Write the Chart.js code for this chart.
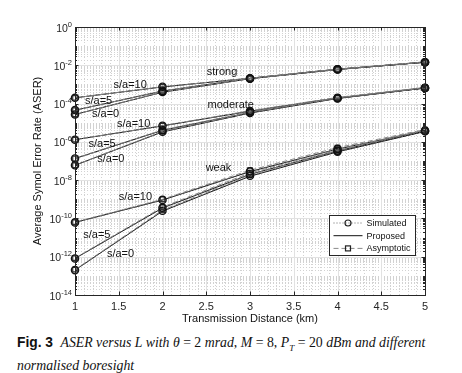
<!DOCTYPE html>
<html>
<head>
<meta charset="utf-8">
<script src="https://cdn.jsdelivr.net/npm/chart.js@4"></script>
<style>
  html, body { margin: 0; padding: 0; background: #fff; }
  #wrap { position: relative; width: 462px; height: 373px; overflow: hidden; }
  #chart { position: absolute; left: 0; top: 0; }
  #caption {
    position: absolute; left: 17px; top: 334px; width: 444px;
    font-family: "Liberation Serif", "DejaVu Serif", serif; font-size: 13.8px;
    line-height: 18px; color: #111; white-space: nowrap;
  }
  #caption b { font-family: "Liberation Sans", Arial, sans-serif; font-size: 13.8px; margin-right: 4px; }
  #caption i { font-style: italic; }
</style>
</head>
<body>
<div id="wrap">
  <canvas id="chart" width="462" height="330"></canvas>
  <div id="caption"><b>Fig. 3</b> <i>ASER versus L with &theta;</i> = 2 <i>mrad</i>, <i>M</i> = 8, <i>P<sub style="font-size:9px">T</sub></i> = 20 <i>dBm and different</i><br><i>normalised boresight</i></div>
</div>
<script>
// Data (x = distance in km, y = ASER)
const distance = [1, 2, 3, 4, 5];
const boresight = ['s/a=10', 's/a=5', 's/a=0'];

// rows: s/a=10, s/a=5, s/a=0
const strongProposed = [
  [2.0e-4, 7.4e-4, 2.1e-3, 6.2e-3, 1.45e-2],
  [4.5e-5, 4.5e-4, 2.05e-3, 6.2e-3, 1.45e-2],
  [2.7e-5, 3.9e-4, 2.0e-3, 6.0e-3, 1.45e-2]
];
const moderateProposed = [
  [1.3e-6, 6.8e-6, 4.0e-5, 2.0e-4, 6.6e-4],
  [1.35e-7, 4.0e-6, 3.4e-5, 1.9e-4, 6.5e-4],
  [6.0e-8, 3.3e-6, 3.2e-5, 1.85e-4, 6.5e-4]
];
const weakProposed = [
  [6.2e-11, 9.1e-10, 2.8e-8, 4.2e-7, 3.8e-6],
  [8.1e-13, 3.5e-10, 2.0e-8, 3.4e-7, 3.6e-6],
  [2.0e-13, 2.4e-10, 1.6e-8, 3.0e-7, 3.5e-6]
];

const strongSimulated = [
  [2.0e-4, 7.6e-4, 2.1e-3, 6.2e-3, 1.45e-2],
  [4.6e-5, 4.6e-4, 2.05e-3, 6.2e-3, 1.45e-2],
  [2.7e-5, 4.0e-4, 2.0e-3, 6.0e-3, 1.45e-2]
];
const moderateSimulated = [
  [1.3e-6, 7.0e-6, 4.1e-5, 2.0e-4, 6.6e-4],
  [1.35e-7, 4.1e-6, 3.5e-5, 1.9e-4, 6.5e-4],
  [6.0e-8, 3.4e-6, 3.2e-5, 1.85e-4, 6.5e-4]
];
const weakSimulated = [
  [6.2e-11, 9.3e-10, 2.9e-8, 4.3e-7, 3.9e-6],
  [8.1e-13, 3.6e-10, 2.1e-8, 3.5e-7, 3.7e-6],
  [2.0e-13, 2.5e-10, 1.7e-8, 3.1e-7, 3.6e-6]
];

const strongAsymptotic = [
  [2.0e-4, 7.5e-4, 2.15e-3, 6.3e-3, 1.5e-2],
  [4.5e-5, 4.6e-4, 2.1e-3, 6.3e-3, 1.5e-2],
  [2.7e-5, 4.0e-4, 2.05e-3, 6.1e-3, 1.5e-2]
];
const moderateAsymptotic = [
  [1.3e-6, 7.0e-6, 4.2e-5, 2.1e-4, 6.9e-4],
  [1.35e-7, 4.2e-6, 3.6e-5, 2.0e-4, 6.8e-4],
  [6.0e-8, 3.5e-6, 3.4e-5, 1.95e-4, 6.8e-4]
];
const weakAsymptotic = [
  [6.4e-11, 1.0e-9, 3.3e-8, 5.0e-7, 4.4e-6],
  [8.5e-13, 3.9e-10, 2.4e-8, 4.0e-7, 4.2e-6],
  [2.1e-13, 2.7e-10, 1.9e-8, 3.5e-7, 4.0e-6]
];

const yDecades = [1, 1e-1, 1e-2, 1e-3, 1e-4, 1e-5, 1e-6, 1e-7, 1e-8, 1e-9, 1e-10, 1e-11, 1e-12, 1e-13, 1e-14];
const yLabelExponents = [0, -2, -4, -6, -8, -10, -12, -14];

// text labels placed in data coordinates
const notes = [
  { text: 'strong', x: 2.68, y: 4.4e-3 },
  { text: 'moderate', x: 2.78, y: 8.1e-5 },
  { text: 'weak', x: 2.64, y: 4.3e-8 },
  { text: 's/a=10', x: 1.63, y: 9.1e-4 },
  { text: 's/a=5', x: 1.27, y: 1.4e-4 },
  { text: 's/a=0', x: 1.35, y: 2.7e-5 },
  { text: 's/a=10', x: 1.67, y: 8.3e-6 },
  { text: 's/a=5', x: 1.31, y: 8.1e-7 },
  { text: 's/a=0', x: 1.41, y: 1.23e-7 },
  { text: 's/a=10', x: 1.69, y: 1.35e-9 },
  { text: 's/a=5', x: 1.25, y: 1.45e-11 },
  { text: 's/a=0', x: 1.52, y: 1.32e-12 }
];

const INK = '#262626';
const FONT = '"Liberation Sans", Arial, sans-serif';

function toPoints(ys) {
  return distance.map((x, i) => ({ x: x, y: ys[i] }));
}

const datasets = [];
[strongSimulated, moderateSimulated, weakSimulated].forEach(group => {
  group.forEach((ys, k) => datasets.push({
    label: 'Simulated ' + boresight[k],
    data: toPoints(ys),
    borderColor: '#666',
    borderWidth: 1,
    borderDash: [1, 2],
    pointStyle: 'circle',
    pointRadius: 3.6,
    pointBorderColor: '#111',
    pointBorderWidth: 1.4,
    pointBackgroundColor: 'rgba(0,0,0,0)'
  }));
});
[strongAsymptotic, moderateAsymptotic, weakAsymptotic].forEach(group => {
  group.forEach((ys, k) => datasets.push({
    label: 'Asymptotic ' + boresight[k],
    data: toPoints(ys),
    borderColor: '#8a8a8a',
    borderWidth: 1,
    borderDash: [5, 3],
    pointStyle: 'rect',
    pointRadius: 3.2,
    pointBorderColor: '#333',
    pointBorderWidth: 1.2,
    pointBackgroundColor: 'rgba(0,0,0,0)'
  }));
});
[strongProposed, moderateProposed, weakProposed].forEach(group => {
  group.forEach((ys, k) => datasets.push({
    label: 'Proposed ' + boresight[k],
    data: toPoints(ys),
    borderColor: '#111',
    borderWidth: 1,
    pointRadius: 0
  }));
});

// MATLAB-like grid, box, ticks, y labels, text labels and legend
const decorPlugin = {
  id: 'decor',
  beforeDatasetsDraw(chart) {
    const { ctx, chartArea: a, scales } = chart;
    const xs = scales.x, ys = scales.y;
    ctx.save();
    ctx.lineWidth = 1;
    // minor grid
    ctx.strokeStyle = '#d2d2d2';
    ctx.setLineDash([1, 2]);
    ctx.beginPath();
    for (let v = 1; v <= 5.0001; v += 0.1) {
      const px = Math.round(xs.getPixelForValue(v)) + 0.5;
      ctx.moveTo(px, a.top); ctx.lineTo(px, a.bottom);
    }
    for (let e = -14; e < 0; e++) {
      for (let m = 1; m <= 9; m++) {
        const py = Math.round(ys.getPixelForValue(m * Math.pow(10, e))) + 0.5;
        ctx.moveTo(a.left, py); ctx.lineTo(a.right, py);
      }
    }
    ctx.stroke();
    // major grid
    ctx.setLineDash([]);
    ctx.strokeStyle = '#e2e2e2';
    ctx.beginPath();
    for (let v = 1.5; v < 5; v += 0.5) {
      const px = Math.round(xs.getPixelForValue(v)) + 0.5;
      ctx.moveTo(px, a.top); ctx.lineTo(px, a.bottom);
    }
    for (let e = -12; e < 0; e += 2) {
      const py = Math.round(ys.getPixelForValue(Math.pow(10, e))) + 0.5;
      ctx.moveTo(a.left, py); ctx.lineTo(a.right, py);
    }
    ctx.stroke();
    ctx.restore();
  },
  afterDatasetsDraw(chart) {
    const { ctx, chartArea: a, scales } = chart;
    const xs = scales.x, ys = scales.y;
    ctx.save();
    // box
    ctx.strokeStyle = INK;
    ctx.lineWidth = 1;
    ctx.strokeRect(Math.round(a.left) + 0.5, Math.round(a.top) + 0.5,
      Math.round(a.right - a.left), Math.round(a.bottom - a.top));
    // ticks
    ctx.beginPath();
    for (let v = 1.5; v < 5; v += 0.5) {
      const px = Math.round(xs.getPixelForValue(v)) + 0.5;
      ctx.moveTo(px, a.bottom); ctx.lineTo(px, a.bottom - 3.5);
      ctx.moveTo(px, a.top); ctx.lineTo(px, a.top + 3.5);
    }
    for (let e = -14; e < 0; e++) {
      for (let m = 1; m <= 9; m++) {
        const py = Math.round(ys.getPixelForValue(m * Math.pow(10, e))) + 0.5;
        const len = (m === 1 && e % 2 === 0) ? 3.5 : 2;
        ctx.moveTo(a.left, py); ctx.lineTo(a.left + len, py);
        ctx.moveTo(a.right, py); ctx.lineTo(a.right - len, py);
      }
    }
    ctx.stroke();
    // y tick labels: 10 with raised exponent
    ctx.fillStyle = INK;
    ctx.textBaseline = 'alphabetic';
    ctx.textAlign = 'left';
    yLabelExponents.forEach(e => {
      const py = ys.getPixelForValue(Math.pow(10, e));
      ctx.font = '7.5px ' + FONT;
      const expText = e === 0 ? '0' : '-' + Math.abs(e);
      const ew = ctx.measureText(expText).width;
      ctx.font = '10.5px ' + FONT;
      const bw = ctx.measureText('10').width;
      const right = a.left - 3;
      ctx.fillText('10', right - ew - bw, py + 4.5);
      ctx.font = '7.5px ' + FONT;
      ctx.fillText(expText, right - ew, py - 0.5);
    });
    // curve labels
    ctx.fillStyle = '#111';
    ctx.font = '11px ' + FONT;
    ctx.textAlign = 'center';
    ctx.textBaseline = 'middle';
    notes.forEach(n => {
      ctx.fillText(n.text, xs.getPixelForValue(n.x), ys.getPixelForValue(n.y));
    });
    // legend
    const lx = 329.5, ly = 215.5, lw = 86, lh = 40;
    ctx.fillStyle = '#fff';
    ctx.fillRect(lx, ly, lw, lh);
    ctx.strokeStyle = INK;
    ctx.lineWidth = 1;
    ctx.strokeRect(lx, ly, lw, lh);
    const rows = [
      { text: 'Simulated', color: '#666', dash: [1, 2], marker: 'circle' },
      { text: 'Proposed', color: '#111', dash: [], marker: null },
      { text: 'Asymptotic', color: '#8a8a8a', dash: [5, 3], marker: 'rect' }
    ];
    ctx.font = '9px ' + FONT;
    ctx.textAlign = 'left';
    rows.forEach((r, i) => {
      const y = ly + 7.5 + i * 12.7;
      ctx.strokeStyle = r.color;
      ctx.setLineDash(r.dash);
      ctx.beginPath();
      ctx.moveTo(lx + 4, y); ctx.lineTo(lx + 33, y);
      ctx.stroke();
      ctx.setLineDash([]);
      ctx.strokeStyle = '#222';
      ctx.lineWidth = 1.2;
      if (r.marker === 'circle') {
        ctx.beginPath(); ctx.arc(lx + 18.5, y, 3, 0, Math.PI * 2); ctx.stroke();
      } else if (r.marker === 'rect') {
        ctx.strokeRect(lx + 16, y - 2.5, 5, 5);
      }
      ctx.lineWidth = 1;
      ctx.fillStyle = '#111';
      ctx.fillText(r.text, lx + 37, y + 0.5);
    });
    ctx.restore();
  }
};

const ctx = document.getElementById('chart').getContext('2d');
const chart = new Chart(ctx, {
  type: 'line',
  data: { datasets: datasets },
  options: {
    responsive: false,
    animation: false,
    devicePixelRatio: 1,
    clip: false,
    layout: { padding: { left: 0, right: 37, top: 27, bottom: 0 } },
    plugins: { legend: { display: false }, tooltip: { enabled: false } },
    elements: { line: { tension: 0 } },
    scales: {
      x: {
        type: 'linear',
        min: 1,
        max: 5,
        grid: { display: false, drawTicks: false },
        border: { display: false },
        ticks: {
          stepSize: 0.5,
          padding: 5,
          color: INK,
          font: { family: FONT, size: 11 },
          maxRotation: 0,
          callback(value) { return String(value); }
        },
        title: {
          display: true,
          text: 'Transmission Distance (km)',
          color: '#111',
          font: { family: FONT, size: 11 },
          padding: { top: 0, bottom: 4 }
        },
        afterFit(scale) { scale.height = 35; }
      },
      y: {
        type: 'logarithmic',
        min: 1e-14,
        max: 1,
        grid: { display: false, drawTicks: false },
        border: { display: false },
        afterBuildTicks(scale) {
          scale.ticks = yDecades.map(v => ({ value: v }));
        },
        ticks: {
          autoSkip: false,
          callback() { return ''; }
        },
        title: {
          display: true,
          text: 'Average Symol Error Rate (ASER)',
          color: '#111',
          font: { family: FONT, size: 11 },
          padding: { top: 31, bottom: 0 }
        },
        afterFit(scale) { scale.width = 75; }
      }
    }
  },
  plugins: [decorPlugin]
});
</script>
</body>
</html>
